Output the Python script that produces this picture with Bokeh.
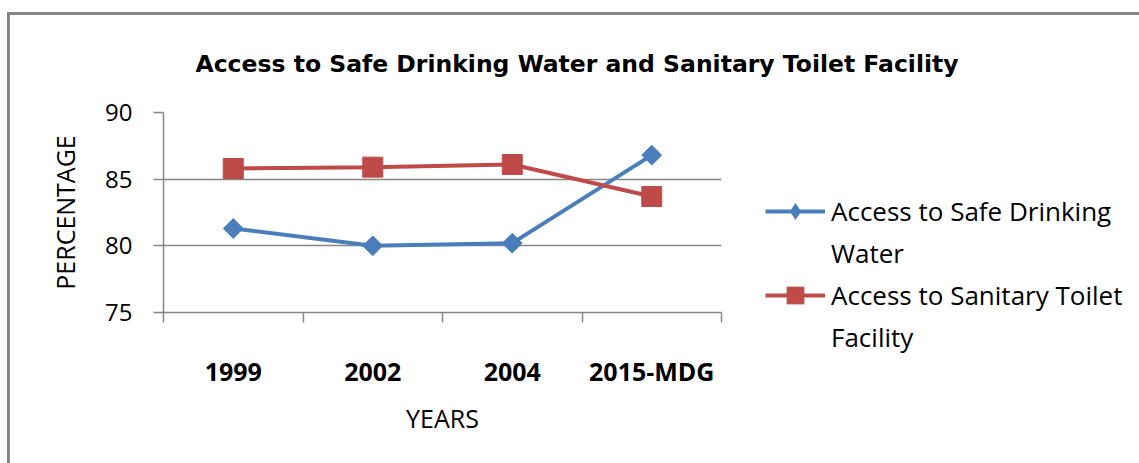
import math
from bokeh.plotting import figure
from bokeh.models import (Range1d, FixedTicker, Legend, LegendItem, Title,
                          ColumnDataSource)
from bokeh.embed import file_html
from bokeh.resources import INLINE

# ---------------- data ----------------
categories = ["1999", "2002", "2004", "2015-MDG"]
water = [81.3, 80.0, 80.2, 86.8]
toilet = [85.8, 85.9, 86.1, 83.7]
y_ticks = [75, 80, 85, 90]
# legend labels, wrapped over two lines as in the original
water_label = ["Access to Safe Drinking", "Water"]
toilet_label = ["Access to Sanitary Toilet", "Facility"]
title_text = "Access to Safe Drinking Water and Sanitary Toilet Facility"
x_title = "YEARS"
y_title = "PERCENTAGE"

# ---------------- style ----------------
BLUE = "#4A7EBB"
RED = "#BE4B48"
GRAY = "#868686"
FONT = "Open Sans"

xs = list(range(len(categories)))
src = ColumnDataSource(dict(x=xs, water=water, toilet=toilet))

L, T = 153, 97
FW, FH = 558, 200
R = 1129 - L - FW
B = 448 - T - FH

p = figure(frame_width=FW, frame_height=FH,
           min_border_left=L, min_border_right=R, min_border_top=T, min_border_bottom=B,
           x_range=Range1d(-0.5, len(categories) - 0.5), y_range=Range1d(75, 90),
           output_backend="svg", toolbar_location=None)
p.styles = {"margin-left": "7px", "margin-top": "12px",
            "border-left": "3px solid #868686", "border-top": "3px solid #868686"}
p.outline_line_color = None
p.background_fill_color = "white"
p.border_fill_color = "white"

p.xgrid.visible = False
p.ygrid.ticker = FixedTicker(ticks=y_ticks)
p.ygrid.grid_line_color = GRAY
p.ygrid.grid_line_width = 1.5

# y axis
ya = p.yaxis[0]
ya.ticker = FixedTicker(ticks=y_ticks)
ya.axis_line_color = GRAY
ya.axis_line_width = 1.5
ya.major_tick_line_color = GRAY
ya.major_tick_line_width = 1.5
ya.major_tick_out = 10
ya.major_tick_in = 0
ya.minor_tick_line_color = None
ya.major_label_text_font = FONT
ya.major_label_text_font_size = "24px"
ya.major_label_text_color = "black"
ya.major_label_standoff = 21
ya.axis_label = y_title
ya.axis_label_text_font = FONT
ya.axis_label_text_font_style = "normal"
ya.axis_label_text_font_size = "25px"
ya.axis_label_text_color = "black"
ya.axis_label_standoff = 20

# x axis
xa = p.xaxis[0]
xa.ticker = FixedTicker(ticks=xs, minor_ticks=[i - 0.5 for i in range(len(categories) + 1)])
xa.major_label_overrides = {i: c for i, c in enumerate(categories)}
xa.axis_line_color = GRAY
xa.axis_line_width = 1.5
xa.major_tick_line_color = None
xa.major_tick_out = 0
xa.major_tick_in = 0
xa.minor_tick_line_color = GRAY
xa.minor_tick_line_width = 1.5
xa.minor_tick_out = 10
xa.minor_tick_in = 0
xa.major_label_text_font = FONT
xa.major_label_text_font_style = "bold"
xa.major_label_text_font_size = "25px"
xa.major_label_text_color = "black"
xa.major_label_standoff = 31
xa.axis_label = x_title
xa.axis_label_text_font = FONT
xa.axis_label_text_font_style = "normal"
xa.axis_label_text_font_size = "25px"
xa.axis_label_text_color = "black"
xa.axis_label_standoff = 10

# series
lb = p.line("x", "water", source=src, line_color=BLUE, line_width=4)
mb = p.scatter("x", "water", source=src, marker="square", angle=math.pi / 4,
               size=14, fill_color=BLUE, line_color=BLUE)
lr = p.line("x", "toilet", source=src, line_color=RED, line_width=4)
mr = p.scatter("x", "toilet", source=src, marker="square", size=20,
               fill_color=RED, line_color=RED)
# legend key for the water series: a diamond (zero size on the plot itself)
key_diamond = p.scatter("x", "water", source=src, marker="diamond", size=0,
                        fill_color=BLUE, line_color=BLUE, line_alpha=0)
# blank key for the wrapped second line of each legend label
blank = p.line(x=[], y=[], line_alpha=0)

legend = Legend(items=[LegendItem(label=water_label[0], renderers=[lb, key_diamond]),
                       LegendItem(label=water_label[1], renderers=[blank]),
                       LegendItem(label=toilet_label[0], renderers=[lr, mr]),
                       LegendItem(label=toilet_label[1], renderers=[blank])],
                location=(44, -46), glyph_width=60, glyph_height=42, label_height=42,
                label_text_font=FONT, label_text_font_size="26px",
                label_text_color="black", label_standoff=6, spacing=0,
                padding=0, margin=0, border_line_color=None,
                background_fill_alpha=0)
p.add_layout(legend, "right")

# title
p.add_layout(Title(text=title_text, align="left", offset=32, standoff=66,
                   vertical_align="top",
                   text_font="DejaVu Sans", text_font_style="bold",
                   text_font_size="23.5px", text_color="black"), "above")

open("out.html", "w").write(file_html(p, INLINE))
